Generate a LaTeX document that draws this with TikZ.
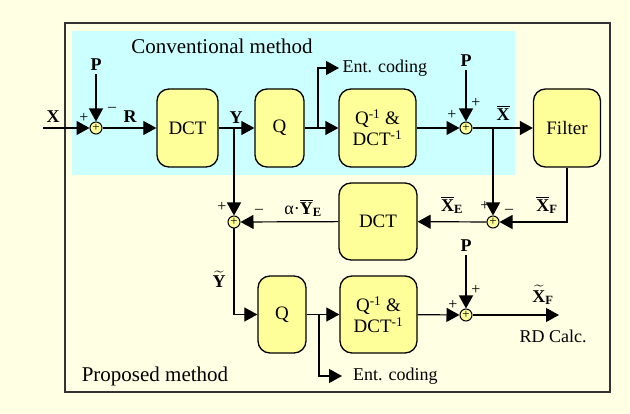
\documentclass[tikz,border=0pt]{standalone}
\usepackage{amsmath}
\usepackage{fontspec}
\setmainfont{Liberation Serif}
\usetikzlibrary{arrows.meta}
\definecolor{paper}{HTML}{FFFFE3}
\definecolor{conv}{HTML}{CCFFFF}
\definecolor{blockfill}{HTML}{FFFF99}
\definecolor{frame}{HTML}{333333}

\begin{document}
\begin{tikzpicture}[x=1pt, y=-1pt,
  block/.style={draw, line width=1.3pt, rounded corners=12pt, fill=blockfill,
                align=center, inner sep=0pt, font=\fontsize{19}{21}\selectfont},
  adder/.style={circle, draw, line width=1pt, fill=blockfill, minimum size=12pt,
                inner sep=0pt, font=\fontsize{13}{13}\selectfont},
  sig/.style={line width=1.2pt, -{Triangle[length=13pt, width=14pt]}},
  srclabel/.style={font=\fontsize{18}{20}\selectfont\bfseries},
  varlabel/.style={font=\fontsize{18}{20}\selectfont\bfseries, inner sep=1pt},
  sign/.style={font=\fontsize{16}{16}\selectfont, inner sep=0pt},
  note/.style={font=\fontsize{18}{20}\selectfont},
  title/.style={font=\fontsize{21}{23}\selectfont},
]

\fill[paper] (0,0) rectangle (630,414);
\draw[frame, line width=1.3pt] (65,23) rectangle (610,392);
\fill[conv] (72,31) rectangle (515,175);

\node[title] (convtitle) at (222,46) {Conventional method};
\node[title] (proptitle) at (155,376) {Proposed method};

\node[block, minimum width=61pt, minimum height=78pt] (dcta) at (187.5,128) {DCT};
\node[block, minimum width=49pt, minimum height=78pt] (qa) at (279.5,128) {Q};
\node[block, minimum width=77pt, minimum height=78pt] (iqa) at (377.5,128)
  {Q\textsuperscript{-1} \&\\DCT\textsuperscript{-1}};
\node[block, minimum width=67pt, minimum height=78pt] (filt) at (567,128) {Filter};
\node[block, minimum width=78pt, minimum height=77pt] (dctb) at (378,221.5) {DCT};
\node[block, minimum width=48pt, minimum height=77pt] (qb) at (282,314.5) {Q};
\node[block, minimum width=77pt, minimum height=77pt] (iqb) at (378.5,314.5)
  {Q\textsuperscript{-1} \&\\DCT\textsuperscript{-1}};

\node[adder] (s1) at (96,128) {+};
\node[adder] (s2) at (466,128) {+};
\node[adder] (s3) at (493,222) {+};
\node[adder] (s4) at (234,222) {+};
\node[adder] (s5) at (466,315) {+};

\node[srclabel] (pa) at (96,65) {P};
\node[srclabel] (pb) at (466,61) {P};
\node[srclabel] (pc) at (466,246) {P};

\coordinate (xin) at (43,128);
\coordinate (ya) at (234,128);
\coordinate (qabranch) at (318,128);
\coordinate (xbranch) at (493,128);
\coordinate (qbbranch) at (319,315);
\coordinate (rdout) at (559,315);

\node[note, anchor=west] (enta) at (339,68) {Ent. coding};
\node[note, anchor=west, inner xsep=11pt] (entb) at (342,376) {Ent. coding};
\node[note] (rdcalc) at (553,336) {RD Calc.};

\node[varlabel] (xlab) at (53,117) {X};
\node[varlabel] (rlab) at (130,117) {R};
\node[varlabel] (ylab) at (236,118) {Y};
\node[varlabel] (xbarlab) at (503,113) {$\overline{\textbf{X}}$};
\node[varlabel] (xelab) at (452,205) {$\overline{\textbf{X}}_{\textbf{E}}$};
\node[varlabel] (xflab) at (547,205) {$\overline{\textbf{X}}_{\textbf{F}}$};
\node[varlabel] (yelab) at (303,208) {\mdseries α·$\overline{\textbf{Y}}_{\textbf{E}}$};
\node[varlabel] (ytlab) at (219,279) {$\widetilde{\textbf{Y}}$};
\node[varlabel] (xtlab) at (543,295) {$\widetilde{\textbf{X}}_{\textbf{F}}$};

\node[sign] (s1p) at (84,118) {+};
\node[sign] (s1m) at (112,109) {--};
\node[sign] (s2p) at (452,115) {+};
\node[sign] (s2q) at (476,103) {+};
\node[sign] (s3p) at (485,206) {+};
\node[sign] (s3m) at (509,211) {--};
\node[sign] (s4p) at (222,207) {+};
\node[sign] (s4m) at (259,211) {--};
\node[sign] (s5p) at (453,305) {+};
\node[sign] (s5q) at (476,290) {+};

\draw[sig] (xin) -- (s1);
\draw[sig] (pa) -- (s1);
\draw[sig] (s1) -- (dcta);
\draw[sig] (dcta) -- (qa);
\draw[sig] (qa) -- (iqa);
\draw[sig] (qabranch) |- (enta.west);
\draw[sig] (iqa) -- (s2);
\draw[sig] (pb) -- (s2);
\draw[sig] (s2) -- (filt);
\draw[sig] (xbranch) -- (s3);
\draw[sig] (filt.south) |- (s3);
\draw[sig] (s3) -- (dctb);
\draw[sig] (dctb) -- (s4);
\draw[sig] (ya) -- (s4);
\draw[sig] (s4) |- (qb);
\draw[sig] (qb) -- (iqb);
\draw[sig] (qbbranch) |- (entb.west);
\draw[sig] (iqb) -- (s5);
\draw[sig] (pc) -- (s5);
\draw[sig] (s5) -- (rdout);

\end{tikzpicture}
\end{document}
